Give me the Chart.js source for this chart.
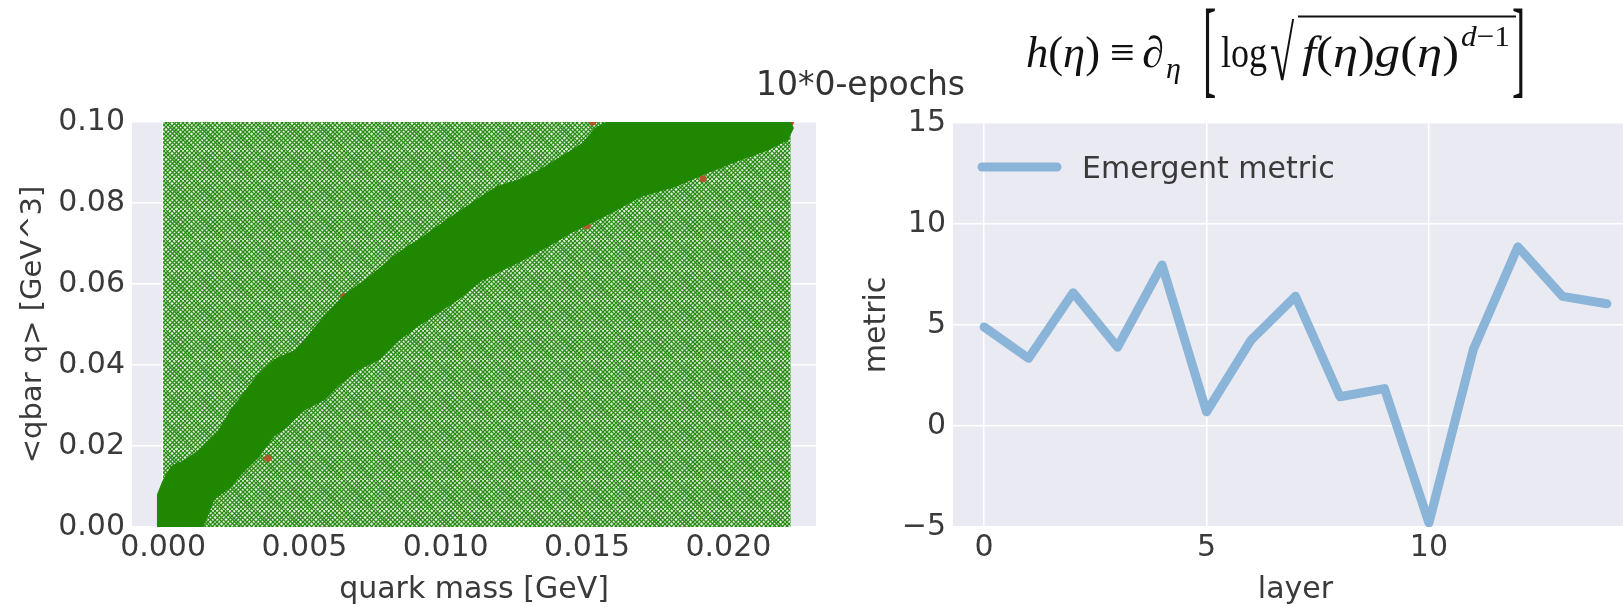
<!DOCTYPE html>
<html>
<head>
<meta charset="utf-8">
<script src="https://cdn.jsdelivr.net/npm/chart.js@4.4.1/dist/chart.umd.min.js"></script>
<style>
  html, body { margin: 0; padding: 0; background: #fff; width: 1623px; height: 607px; overflow: hidden; }
  #left { position: absolute; left: 0; top: 0; }
  #right { position: absolute; left: 820px; top: 0; }
  #notes { position: absolute; left: 0; top: 0; }
</style>
</head>
<body>
<canvas id="left" width="820" height="607"></canvas>
<canvas id="right" width="830" height="607"></canvas>
<svg id="notes" width="1623" height="120">
  <text x="756" y="95" font-family="DejaVu Sans" font-size="33" fill="#333" textLength="209" lengthAdjust="spacingAndGlyphs">10*0-epochs</text>
  <g font-family="Liberation Serif" font-size="44" fill="#111">
    <text x="1026" y="67" textLength="74" lengthAdjust="spacingAndGlyphs"><tspan font-style="italic">h</tspan>(<tspan font-style="italic">η</tspan>)</text>
    <text x="1110" y="67">≡</text>
    <text x="1142" y="67" font-style="italic">∂</text>
    <text x="1166" y="78" font-size="30" font-style="italic">η</text>
    <text transform="translate(1203,84) scale(1,2.7)" font-size="40">[</text>
    <text x="1221" y="67" textLength="46" lengthAdjust="spacingAndGlyphs">log</text>
    <text transform="translate(1270,80) scale(1,1.75)" font-size="44">√</text>
    <line x1="1298" y1="16.5" x2="1516" y2="16.5" stroke="#111" stroke-width="1.8"/>
    <text x="1302" y="67" textLength="157" lengthAdjust="spacingAndGlyphs"><tspan font-style="italic">f</tspan>(<tspan font-style="italic">η</tspan>)<tspan font-style="italic">g</tspan>(<tspan font-style="italic">η</tspan>)</text>
    <text x="1461" y="46" font-size="30" textLength="49" lengthAdjust="spacingAndGlyphs"><tspan font-style="italic">d</tspan>−1</text>
    <text transform="translate(1512,84) scale(1,2.7)" font-size="40">]</text>
  </g>
</svg>
<script>
// ---- left panel: scatter of quark mass vs condensate ----
const massTicks = [0, 0.005, 0.010, 0.015, 0.020];
const condTicks = [0, 0.02, 0.04, 0.06, 0.08, 0.10];

// extent of the sampled 'x' markers (they cover the whole box)
const sampleMass = [0, 0.0222];
const sampleCond = [0, 0.1];

// edges of the dense band of filled circles
const bandUpperMass = [-0.0002, -0.0002, 0.0000, 0.0003, 0.0008, 0.0012, 0.0019, 0.0024, 0.0033, 0.0039, 0.0047, 0.0054, 0.0059, 0.0064, 0.0073, 0.0083, 0.0092, 0.0102, 0.0109, 0.0118, 0.0125, 0.0133, 0.0141, 0.0148, 0.0153, 0.0157, 0.0222];
const bandUpperCond = [0.0000, 0.0080, 0.0115, 0.0150, 0.0166, 0.0186, 0.0231, 0.0289, 0.0371, 0.0412, 0.0437, 0.0495, 0.0535, 0.0572, 0.0618, 0.0676, 0.0717, 0.0766, 0.0799, 0.0840, 0.0855, 0.0880, 0.0915, 0.0945, 0.0985, 0.1000, 0.1000];
const bandLowerMass = [-0.0002, 0.0014, 0.0018, 0.0024, 0.0028, 0.0034, 0.0039, 0.0044, 0.0050, 0.0057, 0.0063, 0.0069, 0.0076, 0.0082, 0.0090, 0.0095, 0.0104, 0.0113, 0.0125, 0.0136, 0.0146, 0.0157, 0.0169, 0.0181, 0.0192, 0.0204, 0.0214, 0.0221, 0.0223, 0.0222];
const bandLowerCond = [0.0000, 0.0000, 0.0067, 0.0100, 0.0133, 0.0174, 0.0223, 0.0248, 0.0289, 0.0314, 0.0355, 0.0388, 0.0412, 0.0454, 0.0495, 0.0519, 0.0560, 0.0610, 0.0651, 0.0692, 0.0733, 0.0770, 0.0816, 0.0840, 0.0873, 0.0906, 0.0931, 0.0956, 0.0985, 0.1000];

// a few red circles peeking out from under the band
const redMass = [0.0152, 0.0222, 0.0191, 0.0150, 0.0064, 0.0037];
const redCond = [0.1000, 0.1000, 0.0860, 0.0744, 0.0569, 0.0170];

// ---- right panel: emergent metric per layer ----
const layers = [0, 1, 2, 3, 4, 5, 6, 7, 8, 9, 10, 11, 12, 13, 14];
const metric = [4.9, 3.35, 6.6, 3.9, 7.97, 0.7, 4.25, 6.42, 1.45, 1.85, -4.8, 3.8, 8.87, 6.42, 6.05];
const layerTicks = [0, 5, 10];
const metricTicks = [-5, 0, 5, 10, 15];

const toXY = (xs, ys) => xs.map((x, i) => ({ x: x, y: ys[i] }));

Chart.defaults.font.family = 'DejaVu Sans';
Chart.defaults.color = '#3a3a3a';
Chart.defaults.animation = false;

const plotBg = {
  id: 'plotBg',
  beforeDraw(chart) {
    const a = chart.chartArea, ctx = chart.ctx;
    ctx.save();
    ctx.fillStyle = '#eaeaf2';
    ctx.fillRect(a.left, a.top, a.right - a.left, a.bottom - a.top);
    ctx.restore();
  }
};

// cross-hatch texture standing in for the overlapping 'x' markers
function crossPattern() {
  const s = 30;
  const c = document.createElement('canvas');
  c.width = c.height = s;
  const g = c.getContext('2d');
  g.fillStyle = '#f2f6f0';
  g.fillRect(0, 0, s, s);
  g.strokeStyle = 'rgba(28,134,6,0.9)';
  g.lineWidth = 1.25;
  const offA = [0, 4, 9, 13, 16, 21, 25];
  const offB = [2, 6, 10, 15, 19, 23, 28];
  for (let m = -1; m <= 1; m++) {
    offA.forEach(o => { const k = o + s * m; g.beginPath(); g.moveTo(k, 0); g.lineTo(k + s, s); g.stroke(); });
    offB.forEach(o => { const k = o + s * m; g.beginPath(); g.moveTo(k + s, 0); g.lineTo(k, s); g.stroke(); });
  }
  return g.createPattern(c, 'repeat');
}

const axisFont = { size: 30 };
const gridStyle = { color: '#ffffff', lineWidth: 1.5, drawTicks: false };

const cloud = toXY(
  [sampleMass[0], sampleMass[0], sampleMass[1], sampleMass[1], sampleMass[0]],
  [sampleCond[0], sampleCond[1], sampleCond[1], sampleCond[0], sampleCond[0]]
);
const band = toXY(bandUpperMass, bandUpperCond)
  .concat(toXY(bandLowerMass, bandLowerCond).reverse());

new Chart(document.getElementById('left'), {
  type: 'line',
  data: {
    datasets: [
      {
        label: 'band',
        data: band,
        borderWidth: 1,
        borderColor: '#1f8800',
        backgroundColor: '#1f8800',
        fill: 'shape',
        pointRadius: 0,
        tension: 0,
        order: 1
      },
      {
        label: 'red',
        data: toXY(redMass, redCond),
        showLine: false,
        pointRadius: 3.5,
        pointBorderWidth: 0,
        pointBackgroundColor: '#b5552e',
        order: 2
      },
      {
        label: 'cloud',
        data: cloud,
        borderWidth: 0,
        backgroundColor: crossPattern(),
        fill: 'shape',
        pointRadius: 0,
        tension: 0,
        order: 3
      }
    ]
  },
  options: {
    responsive: false,
    layout: { padding: { top: 122, right: 4, left: 0, bottom: 0 } },
    plugins: { legend: { display: false }, tooltip: { enabled: false } },
    scales: {
      x: {
        type: 'linear',
        min: -0.0011,
        max: 0.0231,
        afterBuildTicks: s => { s.ticks = massTicks.map(v => ({ value: v })); },
        afterFit: s => { s.height = 80; },
        ticks: { font: axisFont, padding: 3, maxRotation: 0, callback: v => v.toFixed(3) },
        grid: gridStyle,
        border: { display: false },
        title: { display: true, text: 'quark mass [GeV]', font: { size: 30, lineHeight: 1 }, padding: { top: 0, bottom: 2 } }
      },
      y: {
        type: 'linear',
        min: 0,
        max: 0.1,
        afterBuildTicks: s => { s.ticks = condTicks.map(v => ({ value: v })); },
        afterFit: s => { s.width = 132; },
        ticks: { font: axisFont, padding: 7, callback: v => v.toFixed(2) },
        grid: gridStyle,
        border: { display: false },
        title: { display: true, text: '<qbar q> [GeV^3]', font: { size: 29, lineHeight: 1 }, padding: { top: 19, bottom: 0 } }
      }
    }
  },
  plugins: [plotBg]
});

// legend drawn inside the plot, top-left, like matplotlib's
const innerLegend = {
  id: 'innerLegend',
  afterDatasetsDraw(chart) {
    const a = chart.chartArea, ctx = chart.ctx;
    const ds = chart.data.datasets[0];
    ctx.save();
    ctx.strokeStyle = ds.borderColor;
    ctx.lineWidth = 9;
    ctx.lineCap = 'round';
    ctx.beginPath();
    ctx.moveTo(a.left + 29, a.top + 44);
    ctx.lineTo(a.left + 104, a.top + 44);
    ctx.stroke();
    ctx.fillStyle = '#3a3a3a';
    ctx.font = '30px "DejaVu Sans"';
    ctx.textBaseline = 'alphabetic';
    ctx.fillText(ds.label, a.left + 129, a.top + 55);
    ctx.restore();
  }
};

new Chart(document.getElementById('right'), {
  type: 'line',
  data: {
    datasets: [{
      label: 'Emergent metric',
      data: toXY(layers, metric),
      borderColor: 'rgb(139,181,216)',
      borderWidth: 9,
      borderJoinStyle: 'round',
      borderCapStyle: 'round',
      pointRadius: 0,
      tension: 0,
      fill: false
    }]
  },
  options: {
    responsive: false,
    layout: { padding: { top: 123, right: 12, left: 0, bottom: 0 } },
    plugins: { legend: { display: false }, tooltip: { enabled: false } },
    scales: {
      x: {
        type: 'linear',
        min: -0.7,
        max: 14.7,
        afterBuildTicks: s => { s.ticks = layerTicks.map(v => ({ value: v })); },
        afterFit: s => { s.height = 80; },
        ticks: { font: axisFont, padding: 3, maxRotation: 0 },
        grid: gridStyle,
        border: { display: false },
        title: { display: true, text: 'layer', font: { size: 30, lineHeight: 1 }, padding: { top: 0, bottom: 2 } }
      },
      y: {
        type: 'linear',
        min: -5,
        max: 15,
        afterBuildTicks: s => { s.ticks = metricTicks.map(v => ({ value: v })); },
        afterFit: s => { s.width = 133; },
        ticks: { font: axisFont, padding: 7, callback: v => (v < 0 ? '\u2212' + Math.abs(v) : String(v)) },
        grid: gridStyle,
        border: { display: false },
        title: { display: true, text: 'metric', font: { size: 30, lineHeight: 1 }, padding: { top: 42, bottom: 0 } }
      }
    }
  },
  plugins: [plotBg, innerLegend]
});
</script>
</body>
</html>
